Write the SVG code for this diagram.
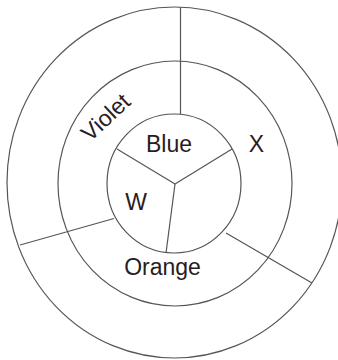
<svg xmlns="http://www.w3.org/2000/svg" width="338" height="360" viewBox="0 0 338 360">
<style>
.ring{fill:none;stroke:#555;stroke-width:1.2}
.div{stroke:#555;stroke-width:1.2;fill:none}
text{font-family:"Liberation Sans",Arial,sans-serif;font-size:23px;fill:#2a1c1e}
</style>
<rect width="338" height="360" fill="#fff"/>
<g id="outer-ring"><ellipse class="ring" cx="174.5" cy="182.5" rx="167.5" ry="175.5"/></g>
<g id="middle-ring"><ellipse class="ring" cx="175" cy="183.5" rx="117" ry="122.5"/></g>
<g id="inner-ring"><ellipse class="ring" cx="174" cy="183.5" rx="67" ry="69.5"/></g>
<g id="connectors">
<line class="div" x1="175" y1="184" x2="117" y2="149"/>
<line class="div" x1="175" y1="184" x2="232" y2="149"/>
<line class="div" x1="175" y1="184" x2="166" y2="253"/>
<line class="div" x1="180.5" y1="7" x2="180.5" y2="114"/>
<line class="div" x1="114" y1="218.5" x2="20" y2="245"/>
<line class="div" x1="226" y1="233" x2="312" y2="283"/>
</g>
<g id="blue"><text x="169" y="152" text-anchor="middle">Blue</text></g>
<g id="x"><text x="256.5" y="152" text-anchor="middle">X</text></g>
<g id="w"><text x="136" y="210" text-anchor="middle">W</text></g>
<g id="orange"><text x="162.5" y="275" text-anchor="middle">Orange</text></g>
<g id="violet"><text x="0" y="0" text-anchor="middle" font-size="22" transform="translate(111 123) rotate(-43)">Violet</text></g>
</svg>
